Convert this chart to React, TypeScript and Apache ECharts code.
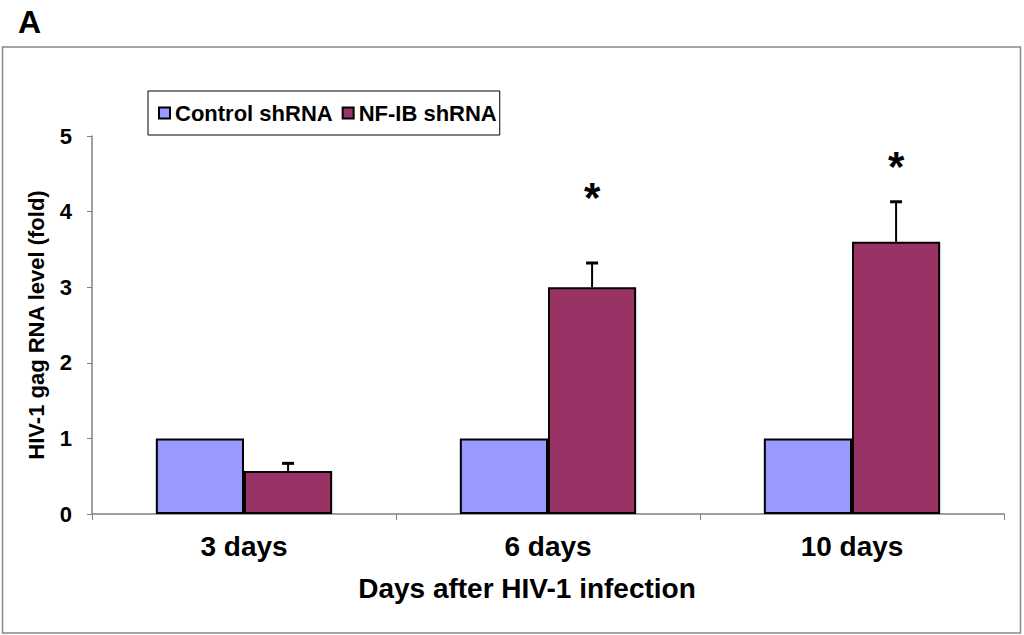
import React, { useEffect, useRef } from "react";
import * as echarts from "echarts";

const categories = ["3 days", "6 days", "10 days"];
const controlValues = [1.0, 1.0, 1.0];
const nfibValues = [0.57, 3.0, 3.6];
const nfibErrorTops = [0.67, 3.32, 4.13];
const starValues = [null, 4.18, 4.6];
const yTicks = [0, 1, 2, 3, 4, 5];

const CONTROL_COLOR = "#9999ff";
const NFIB_COLOR = "#993366";
const BAR_CAT_GAP = 0.42;

export default function App() {
  const ref = useRef<HTMLDivElement>(null);
  useEffect(() => {
    document.body.style.margin = "0";
    const chart = echarts.init(ref.current!, null, { renderer: "svg" });
    const font = "Liberation Sans, Arial, sans-serif";
    const nfOffset = (api: any) => {
      const catW = api.size([1, 0])[0];
      return (catW * (1 - BAR_CAT_GAP)) / 4;
    };
    chart.setOption({
      animation: false,
      backgroundColor: "#ffffff",
      textStyle: { fontFamily: font },
      grid: { left: 92, right: 20, top: 136, bottom: 121, containLabel: false },
      legend: {
        left: 148,
        top: 91,
        orient: "horizontal",
        icon: "rect",
        itemWidth: 11,
        itemHeight: 11,
        itemGap: 9,
        padding: [11, 3, 11, 10],
        borderColor: "#000",
        borderWidth: 1,
        data: ["Control shRNA", "NF-IB shRNA"],
        textStyle: { fontFamily: font, fontWeight: "bold", fontSize: 22, color: "#000", padding: [0, 0, 0, 0] },
      },
      xAxis: {
        type: "category",
        data: categories,
        name: "Days after HIV-1 infection",
        nameLocation: "middle",
        nameGap: 60,
        nameTextStyle: { fontFamily: font, fontWeight: "bold", fontSize: 28, color: "#000", padding: [0, 42, 0, 0] },
        axisLine: { lineStyle: { color: "#808080", width: 1.5 } },
        axisTick: { show: true, length: 6, alignWithLabel: false, lineStyle: { color: "#808080" } },
        axisLabel: { margin: 18, fontFamily: font, fontWeight: "bold", fontSize: 28, color: "#000" },
      },
      yAxis: {
        type: "value",
        min: 0,
        max: 5,
        interval: 1,
        name: "HIV-1 gag RNA level (fold)",
        nameLocation: "middle",
        nameRotate: 90,
        nameGap: 45,
        nameTextStyle: { fontFamily: font, fontWeight: "bold", fontSize: 22, color: "#000" },
        axisLine: { show: true, lineStyle: { color: "#808080", width: 1.5 } },
        axisTick: { show: true, length: 5, lineStyle: { color: "#808080" } },
        splitLine: { show: false },
        axisLabel: {
          margin: 20,
          fontFamily: font,
          fontWeight: "bold",
          fontSize: 22,
          color: "#000",
          formatter: (v: number) => (yTicks.includes(v) ? String(v) : ""),
        },
      },
      series: [
        {
          name: "Control shRNA",
          type: "bar",
          data: controlValues,
          barGap: "0%",
          barCategoryGap: BAR_CAT_GAP * 100 + "%",
          itemStyle: { color: CONTROL_COLOR, borderColor: "#000", borderWidth: 2 },
        },
        {
          name: "NF-IB shRNA",
          type: "bar",
          data: nfibValues,
          barGap: "0%",
          barCategoryGap: BAR_CAT_GAP * 100 + "%",
          itemStyle: { color: NFIB_COLOR, borderColor: "#000", borderWidth: 2 },
        },
        {
          type: "custom",
          name: "err",
          data: nfibValues.map((v, i) => [i, v, nfibErrorTops[i]]),
          z: 5,
          renderItem: (params: any, api: any) => {
            const off = nfOffset(api);
            const base = api.coord([api.value(0), api.value(1)]);
            const top = api.coord([api.value(0), api.value(2)]);
            const x = base[0] + off;
            return {
              type: "group",
              children: [
                { type: "line", shape: { x1: x, y1: base[1], x2: x, y2: top[1] }, style: { stroke: "#000", lineWidth: 2 } },
                { type: "line", shape: { x1: x - 6, y1: top[1], x2: x + 6, y2: top[1] }, style: { stroke: "#000", lineWidth: 3 } },
              ],
            };
          },
        },
        {
          type: "custom",
          name: "stars",
          data: starValues.map((v, i) => [i, v]).filter((d) => d[1] !== null),
          z: 6,
          renderItem: (params: any, api: any) => {
            const off = nfOffset(api);
            const p = api.coord([api.value(0), api.value(1)]);
            return {
              type: "text",
              x: p[0] + off,
              y: p[1],
              style: {
                text: "*",
                fontFamily: font,
                fontWeight: "bold",
                fontSize: 42,
                fill: "#000",
                align: "center",
                verticalAlign: "middle",
              },
            };
          },
        },
      ],
      graphic: [
        {
          type: "rect",
          shape: { x: 2.5, y: 47, width: 1018, height: 586 },
          style: { fill: "none", stroke: "#888", lineWidth: 1.5 },
          z: -1,
        },
        {
          type: "text",
          x: 18,
          y: 6,
          style: { text: "A", fontFamily: font, fontWeight: "bold", fontSize: 32, fill: "#000" },
        },
      ],
    });
    return () => chart.dispose();
  }, []);
  return <div ref={ref} style={{ width: 1024, height: 635 }} />;
}
